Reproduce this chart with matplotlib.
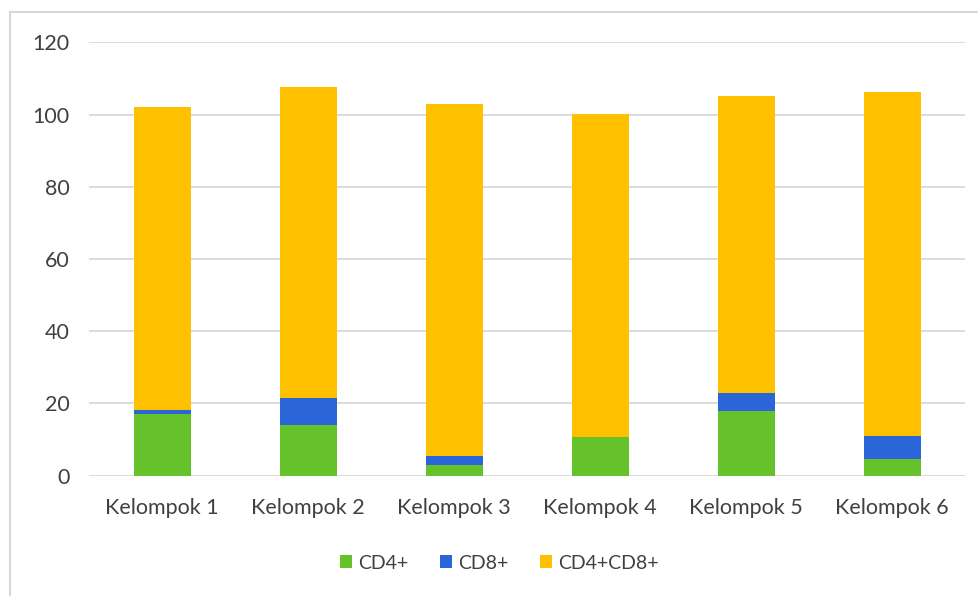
import matplotlib
matplotlib.use("Agg")
import matplotlib.pyplot as plt
from matplotlib.lines import Line2D
import numpy as np

categories = ["Kelompok 1", "Kelompok 2", "Kelompok 3", "Kelompok 4", "Kelompok 5", "Kelompok 6"]
cd4 = [17.0, 14.0, 3.0, 10.6, 18.0, 4.6]
cd8 = [1.3, 7.4, 2.5, 0.0, 4.8, 6.3]
cd4cd8 = [83.7, 86.2, 97.3, 89.6, 82.4, 95.4]
series_names = ["CD4+", "CD8+", "CD4+CD8+"]
colors = ["#66C22A", "#2A66D8", "#FFC000"]
yticks = [0, 20, 40, 60, 80, 100, 120]

plt.rcParams['font.family'] = ['Lato', 'DejaVu Sans']

fig = plt.figure(figsize=(9.79, 5.96), dpi=100)
ax = fig.add_axes([0.091, 0.202, 0.895, 0.727])

x = np.arange(len(categories))
w = 0.39
bottom = np.zeros(len(categories))
for vals, name, c in zip([cd4, cd8, cd4cd8], series_names, colors):
    ax.bar(x, vals, w, bottom=bottom, color=c, label=name, zorder=3)
    bottom = bottom + np.array(vals)

ax.set_ylim(0, 120)
ax.set_xlim(-0.5, len(categories) - 0.5)
ax.set_yticks(yticks)
ax.set_xticks(x)
ax.set_xticklabels(categories)
ax.yaxis.grid(True, color="#D9D9D9", linewidth=1.3, zorder=0)
for s in ax.spines.values():
    s.set_visible(False)
ax.tick_params(axis='both', length=0, labelsize=15.5, labelcolor="#404040")
ax.tick_params(axis='y', pad=14)
ax.tick_params(axis='x', pad=16)

leg = fig.legend(loc='center', bbox_to_anchor=(0.51, 0.055), ncol=3, frameon=False,
                 fontsize=14, handlelength=0.65, handleheight=0.65, handletextpad=0.3,
                 columnspacing=1.6)
for t in leg.get_texts():
    t.set_color("#404040")

fig.add_artist(Line2D([10/979, 1.0], [1 - 12/596, 1 - 12/596], transform=fig.transFigure,
                      color="#D0D0D0", linewidth=1.2))
fig.add_artist(Line2D([10/979, 10/979], [0, 1 - 12/596], transform=fig.transFigure,
                      color="#D0D0D0", linewidth=1.2))

fig.savefig("out.png", dpi=100)
